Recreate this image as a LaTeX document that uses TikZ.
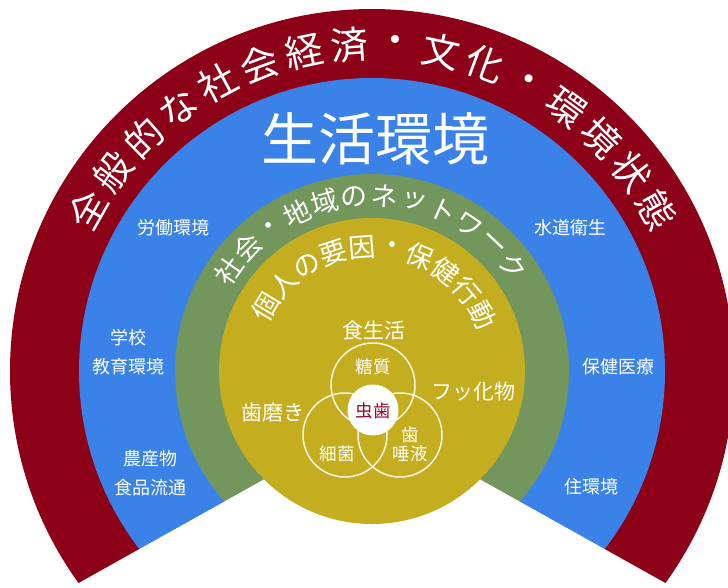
\documentclass[tikz,border=0pt]{standalone}
\usepackage{fontspec}
\setmainfont{Noto Sans CJK JP}
\usetikzlibrary{calc}
\definecolor{outerred}{RGB}{140,0,24}
\definecolor{lifeblue}{RGB}{58,130,232}
\definecolor{netgreen}{RGB}{115,150,92}
\definecolor{indyellow}{RGB}{196,174,32}
\definecolor{cariesred}{RGB}{150,10,45}
\definecolor{venncol}{RGB}{250,245,225}
\begin{document}
\begin{tikzpicture}[x=1pt,y=-1pt,
  every node/.style={text=white, inner sep=0pt},
  outerchar/.style={font=\fontsize{38}{40}\selectfont},
  netchar/.style={font=\fontsize{27}{29}\selectfont},
  indchar/.style={font=\fontsize{27}{29}\selectfont},
  biglabel/.style={font=\fontsize{57}{60}\selectfont},
  bluelabel/.style={font=\fontsize{18}{29}\selectfont, align=center},
  innerlabel/.style={font=\fontsize{21}{24}\selectfont},
  vennlabel/.style={font=\fontsize{17.5}{19}\selectfont},
  venncircle/.style={draw=venncol, line width=1.5pt}]
\useasboundingbox (0,0) rectangle (728,587);
\coordinate (C) at (372,371);
\coordinate (apex) at (372,419);
\coordinate (wl) at (-100,683);
\coordinate (wr) at (844,683);
% rings
\fill[outerred] (C) circle[radius=362pt];
\fill[lifeblue] (C) circle[radius=293pt];
\fill[netgreen] (C) circle[radius=197pt];
\fill[white] (apex) -- (wl) -- (wr) -- cycle;
\fill[indyellow] (C) circle[radius=153pt];
% outer arc text
\foreach \ch [count=\i from 0] in {全,般,的,な,社,会,経,済,・,文,化,・,環,境,状,態}{
  \pgfmathsetmacro\ang{150.5-8.07*\i}
  \node[outerchar, rotate=\ang-90] (o\i) at ($(C)+(\ang:327pt)$) {\ch};
}
% network arc text
\foreach \ch [count=\i from 0] in {社,会,・,地,域,の,ネ,ッ,ト,ワ,ー,ク}{
  \pgfmathsetmacro\ang{145-9.85*\i}
  \node[netchar, rotate=\ang-90] (n\i) at ($(C)+(\ang:175pt)$) {\ch};
}
% individual arc text
\foreach \ch [count=\i from 0] in {個,人,の,要,因,・,保,健,行,動}{
  \pgfmathsetmacro\ang{149-13.6*\i}
  \node[indchar, rotate=\ang-90] (p\i) at ($(C)+(\ang:124pt)$) {\ch};
}
% title of living environment
\node[biglabel] (life) at (375,139) {生活環境};
% blue band labels
\node[bluelabel] (labor) at (173,228) {労働環境};
\node[bluelabel] (water) at (570,228) {水道衛生};
\node[bluelabel] (school) at (128,352.5) {学校\\教育環境};
\node[bluelabel] (medical) at (618,367) {保健医療};
\node[bluelabel] (food) at (150,473) {農産物\\食品流通};
\node[bluelabel] (housing) at (591,487) {住環境};
% inner labels
\node[innerlabel] (diet) at (374,331) {食生活};
\node[innerlabel] (brush) at (273,413) {歯磨き};
\node[innerlabel] (fluor) at (473,392) {フッ化物};
% venn circles
\draw[venncircle] (373,385) circle[radius=42pt];
\draw[venncircle] (345,435) circle[radius=42pt];
\draw[venncircle] (400,435) circle[radius=42pt];
\fill[white] (373,410) circle[radius=25.5pt];
\node[vennlabel] (sugar) at (373,367) {糖質};
\node[vennlabel] (bact) at (337,454) {細菌};
\node[vennlabel] (tooth) at (410,435) {歯};
\node[vennlabel] (saliva) at (410,454) {唾液};
\node[vennlabel, text=cariesred] (caries) at (373,411) {虫歯};
\end{tikzpicture}
\end{document}
